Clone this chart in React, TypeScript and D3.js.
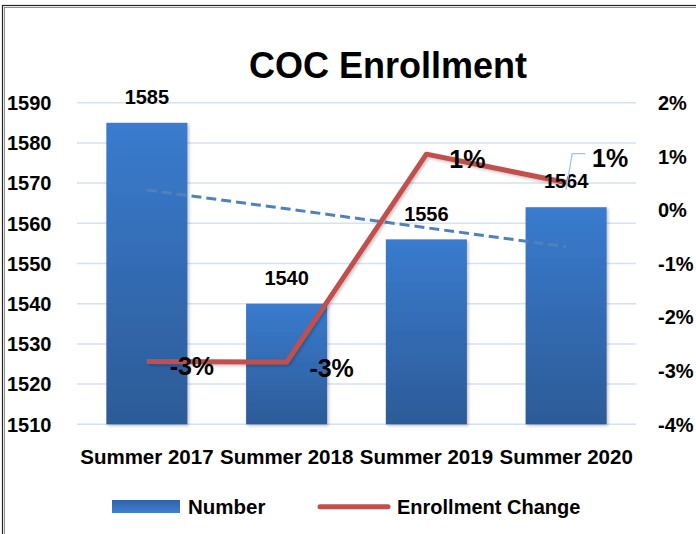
import * as d3 from "d3";

const categories = ["Summer 2017", "Summer 2018", "Summer 2019", "Summer 2020"];
const numbers = [1585, 1540, 1556, 1564];
const changes = [-2.83, -2.84, 1.04, 0.51];
const leftTicks = [1510, 1520, 1530, 1540, 1550, 1560, 1570, 1580, 1590];
const rightTicks = [-4, -3, -2, -1, 0, 1, 2];

const W = 696;
const H = 534;
const FONT = "'Liberation Sans', Arial, sans-serif";

// per-label nudges for the change labels (Excel put them by hand)
const changeLabelOffsets = [
  [45, 4],
  [45, 6],
  [41, 5],
  [44, -25],
];

const locale = d3.formatLocale({
  decimal: ".",
  thousands: ",",
  grouping: [3],
  currency: ["$", ""],
  minus: "-",
});
const pct = (v: number) => locale.format(".0%")(v / 100);

const App = () => {
  const x = d3
    .scaleBand<string>()
    .domain(categories)
    .range([77, 636])
    .paddingInner(0.42)
    .paddingOuter(0.21);
  const yL = d3.scaleLinear().domain([1510, 1590]).range([424.3, 102.7]);
  const yR = d3.scaleLinear().domain([-4, 2]).range([424.3, 102.7]);
  const cx = (c: string) => (x(c) ?? 0) + x.bandwidth() / 2;

  // linear trendline of Number
  const idx = numbers.map((_, i) => i);
  const mx = d3.mean(idx)!;
  const my = d3.mean(numbers)!;
  const slope =
    d3.sum(idx, (i) => (i - mx) * (numbers[i] - my)) /
    d3.sum(idx, (i) => (i - mx) ** 2);
  const trend = (i: number) => my + slope * (i - mx);

  const line = d3
    .line<number>()
    .x((_, i) => cx(categories[i]))
    .y((d) => yR(d));

  const p4x = cx(categories[3]);
  const p4y = yR(changes[3]);

  return (
    <svg width={W} height={H} style={{ position: "absolute", left: 0, top: 0 }}>
      <defs>
        <linearGradient id="barGrad" x1="0" y1="0" x2="0" y2="1">
          <stop offset="0%" stopColor="#3A7BCE" />
          <stop offset="100%" stopColor="#2C5B97" />
        </linearGradient>
        <linearGradient id="legGrad" x1="0" y1="0" x2="0" y2="1">
          <stop offset="0%" stopColor="#2E64AA" />
          <stop offset="100%" stopColor="#3F80CF" />
        </linearGradient>
        <filter id="shadow" x="-20%" y="-20%" width="140%" height="140%">
          <feDropShadow dx="1.5" dy="1.5" stdDeviation="1.5" floodColor="#000" floodOpacity="0.25" />
        </filter>
      </defs>
      <rect x={0} y={0} width={W} height={H} fill="#fff" />
      {/* chart border (cropped at right and bottom) */}
      <rect x={2.5} y={5.5} width={W + 10} height={H + 10} fill="none" stroke="#222" strokeWidth={1.2} />
      <rect x={4.5} y={7.5} width={W + 10} height={H + 10} fill="none" stroke="#777" strokeWidth={0.8} />

      <text x={388} y={78} textAnchor="middle" fontFamily={FONT} fontWeight="bold" fontSize={36} fill="#000">
        COC Enrollment
      </text>

      {/* gridlines */}
      {leftTicks.map((t) => (
        <line key={t} x1={77} x2={636} y1={yL(t)} y2={yL(t)} stroke="#D6E1F1" strokeWidth={1.5} />
      ))}

      {/* left axis */}
      {leftTicks.map((t) => (
        <text key={t} x={7} y={yL(t)} dy="0.36em" fontFamily={FONT} fontWeight="bold" fontSize={20} fill="#000">
          {t}
        </text>
      ))}
      {/* right axis */}
      {rightTicks.map((t) => (
        <text key={t} x={658} y={yR(t)} dy="0.36em" fontFamily={FONT} fontWeight="bold" fontSize={20} fill="#000">
          {pct(t)}
        </text>
      ))}

      {/* bars */}
      {categories.map((c, i) => (
        <rect
          key={c}
          x={x(c)}
          y={yL(numbers[i])}
          width={x.bandwidth()}
          height={yL(1510) - yL(numbers[i])}
          fill="url(#barGrad)"
          filter="url(#shadow)"
        />
      ))}

      {/* trendline */}
      <line
        x1={cx(categories[0])}
        y1={yL(trend(0))}
        x2={cx(categories[3])}
        y2={yL(trend(3))}
        stroke="#4F81BD"
        strokeWidth={3}
        strokeDasharray="10 5"
      />

      {/* change line */}
      <path d={line(changes) ?? ""} fill="none" stroke="#C0504D" strokeWidth={5} strokeLinejoin="round" filter="url(#shadow)" />

      {/* bar labels */}
      {categories.map((c, i) => (
        <text
          key={c}
          x={cx(c)}
          y={yL(numbers[i]) - 26}
          dy="0.36em"
          textAnchor="middle"
          fontFamily={FONT}
          fontWeight="bold"
          fontSize={20}
          fill="#000"
        >
          {numbers[i]}
        </text>
      ))}

      {/* leader line for last change label */}
      <polyline
        points={`${p4x},${p4y + 7} ${p4x + 6},${p4y - 29} ${p4x + 19},${p4y - 29}`}
        fill="none"
        stroke="#9DC3E6"
        strokeWidth={1.2}
      />

      {/* change labels */}
      {categories.map((c, i) => (
        <text
          key={c}
          x={cx(c) + changeLabelOffsets[i][0]}
          y={yR(changes[i]) + changeLabelOffsets[i][1]}
          dy="0.36em"
          textAnchor="middle"
          fontFamily={FONT}
          fontWeight="bold"
          fontSize={25}
          fill="#000"
        >
          {pct(changes[i])}
        </text>
      ))}

      {/* x axis labels */}
      {categories.map((c) => (
        <text key={c} x={cx(c)} y={457} dy="0.36em" textAnchor="middle" fontFamily={FONT} fontWeight="bold" fontSize={20.5} fill="#000">
          {c}
        </text>
      ))}

      {/* legend */}
      <rect x={112} y={500} width={68} height={13} fill="url(#legGrad)" />
      <text x={188} y={506.5} dy="0.36em" fontFamily={FONT} fontWeight="bold" fontSize={20.5} fill="#000">
        Number
      </text>
      <line x1={320} x2={388} y1={506.7} y2={506.7} stroke="#C0504D" strokeWidth={5} strokeLinecap="round" />
      <text x={397} y={506.5} dy="0.36em" fontFamily={FONT} fontWeight="bold" fontSize={20} fill="#000">
        Enrollment Change
      </text>
    </svg>
  );
};

export default App;
